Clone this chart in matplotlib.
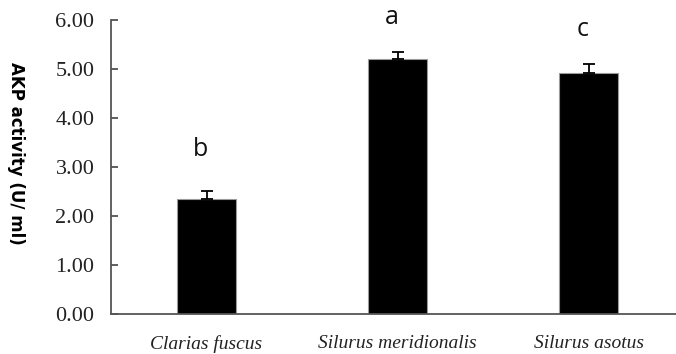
import matplotlib.pyplot as plt

species = ["Clarias fuscus", "Silurus meridionalis", "Silurus asotus"]
akp_mean = [2.35, 5.20, 4.91]
akp_err = [0.17, 0.14, 0.19]
sig_letters = ["b", "a", "c"]
letter_y = [3.35, 6.05, 5.80]

fig = plt.figure(figsize=(6.76, 3.54), dpi=100)
ax = fig.add_axes([111 / 676, 40 / 354, 573 / 676, 294 / 354])

x = range(len(species))
ax.bar(x, akp_mean, width=0.31, color="black", edgecolor="#9a9a9a", linewidth=0.8, zorder=2)
ax.errorbar(x, akp_mean, yerr=[[0] * len(akp_err), akp_err], fmt="none",
            ecolor="black", elinewidth=1.3, capsize=4, capthick=1.3, zorder=3)

# significance letters above each bar
for xi, lab, ly in zip(x, sig_letters, letter_y):
    ax.text(xi - 0.03, ly, lab, ha="center", va="center", fontsize=18,
            family="Open Sans", color="#111111")

ax.set_xlim(-0.5, 2.5)
ax.set_ylim(0, 6)
ax.set_yticks([0, 1, 2, 3, 4, 5, 6])
ax.set_yticklabels([f"{v:.2f}" for v in range(7)], family="Liberation Serif",
                   fontsize=16, color="#222222")
ax.set_xticks(list(x))
ax.set_xticklabels(species, family="Liberation Serif", style="italic",
                   fontsize=14, color="#222222")
ax.tick_params(axis="y", direction="in", length=5, width=1.2, color="#444444", pad=12)
ax.tick_params(axis="x", length=0, pad=15)

for side in ["top", "right"]:
    ax.spines[side].set_visible(False)
for side in ["left", "bottom"]:
    ax.spines[side].set_color("#555555")
    ax.spines[side].set_linewidth(1.3)

fig.text(16 / 676, 1 - 153 / 354, "AKP activity (U/ ml)", rotation=270,
         ha="center", va="center", fontsize=12, fontweight="bold", family="DejaVu Sans")

fig.savefig("out.png", dpi=100)
